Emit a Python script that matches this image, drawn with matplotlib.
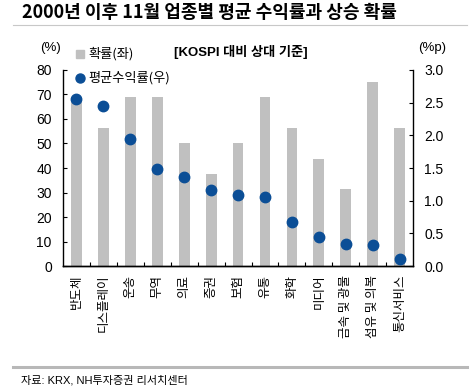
import matplotlib
matplotlib.use("Agg")
import matplotlib.pyplot as plt
import numpy as np

plt.rcParams["font.family"] = ["Liberation Sans", "Noto Sans CJK KR"]
plt.rcParams["axes.unicode_minus"] = False

# 데이터
sectors = ["반도체", "디스플레이", "운송", "무역", "의료", "증권", "보험", "유통",
           "화학", "미디어", "금속 및 광물", "섬유 및 의복", "통신서비스"]
up_prob = [68.75, 56.25, 68.75, 68.75, 50.0, 37.5, 50.0, 68.75,
           56.25, 43.75, 31.25, 75.0, 56.25]
avg_return = [2.56, 2.44, 1.94, 1.48, 1.36, 1.16, 1.09, 1.06,
              0.67, 0.44, 0.34, 0.33, 0.11]
left_ticks = [0, 10, 20, 30, 40, 50, 60, 70, 80]
right_ticks = [0.0, 0.5, 1.0, 1.5, 2.0, 2.5, 3.0]

BAR = "#c0c0c0"
DOT = "#0b4e96"
KR = ["Noto Sans CJK KR"]

fig = plt.figure(figsize=(4.7, 3.88), dpi=100)
ax = fig.add_axes([0.134, 0.314, 0.745, 0.506])
ax2 = ax.twinx()

x = np.arange(len(sectors))
ax.bar(x, up_prob, width=0.4, color=BAR, zorder=1)
ax2.plot(x, avg_return, "o", color=DOT, markersize=7.5, zorder=3)

ax.set_xlim(-0.5, len(sectors) - 0.5)
ax.set_ylim(0, 80)
ax2.set_ylim(0, 3.0)
ax.set_yticks(left_ticks)
ax2.set_yticks(right_ticks)
ax2.set_yticklabels([f"{v:.1f}" for v in right_ticks])

ax.set_xticks(x)
ax.set_xticklabels(sectors, rotation=90, family=KR, fontsize=9, va="top")
ax.set_xticks(x[:-1] + 0.5, minor=True)
ax.tick_params(axis="x", which="major", length=0, pad=6)
ax.tick_params(axis="x", which="minor", direction="in", length=3, width=0.8)
ax.tick_params(axis="y", direction="in", length=3, labelsize=10, pad=8)
ax2.tick_params(axis="y", direction="in", length=3, labelsize=10, pad=8)

for a in (ax, ax2):
    a.spines["top"].set_visible(False)
    for s in a.spines.values():
        s.set_linewidth(1.0)
ax2.spines["left"].set_visible(False)
ax.spines["right"].set_visible(False)

# 제목 및 주석
fig.text(0.047, 0.968, "2000년 이후 11월 업종별 평균 수익률과 상승 확률",
         family=KR, fontsize=13, fontweight="bold", va="center")
fig.add_artist(plt.Line2D([0.028, 0.994], [0.935, 0.935], color="#c8c8c8", lw=0.8))
fig.text(0.085, 0.877, "(%)", fontsize=9.5, va="center")
fig.text(0.89, 0.877, "(%p)", fontsize=9.5, va="center")
fig.text(0.37, 0.866, "[KOSPI 대비 상대 기준]", family=["Liberation Sans", "Noto Sans CJK KR"],
         fontsize=9.5, fontweight="bold", va="center")

# 범례
ax.plot([0.05], [1.08], "s", transform=ax.transAxes, color=BAR, markersize=6, clip_on=False)
ax.text(0.072, 1.08, "확률(좌)", transform=ax.transAxes, family=KR, fontsize=9.5, va="center")
ax.plot([0.05], [0.96], "o", transform=ax.transAxes, color=DOT, markersize=6.5, clip_on=False)
ax.text(0.072, 0.96, "평균수익률(우)", transform=ax.transAxes, family=KR, fontsize=9.5, va="center")

fig.add_artist(plt.Line2D([0.028, 0.994], [0.054, 0.054], color="#b8b8b8", lw=2.2))
fig.text(0.045, 0.02, "자료: KRX, NH투자증권 리서치센터", family=["Liberation Sans", "Noto Sans CJK KR"],
         fontsize=8, va="center")

fig.savefig("out.png", dpi=100, facecolor="white")
plt.close(fig)
